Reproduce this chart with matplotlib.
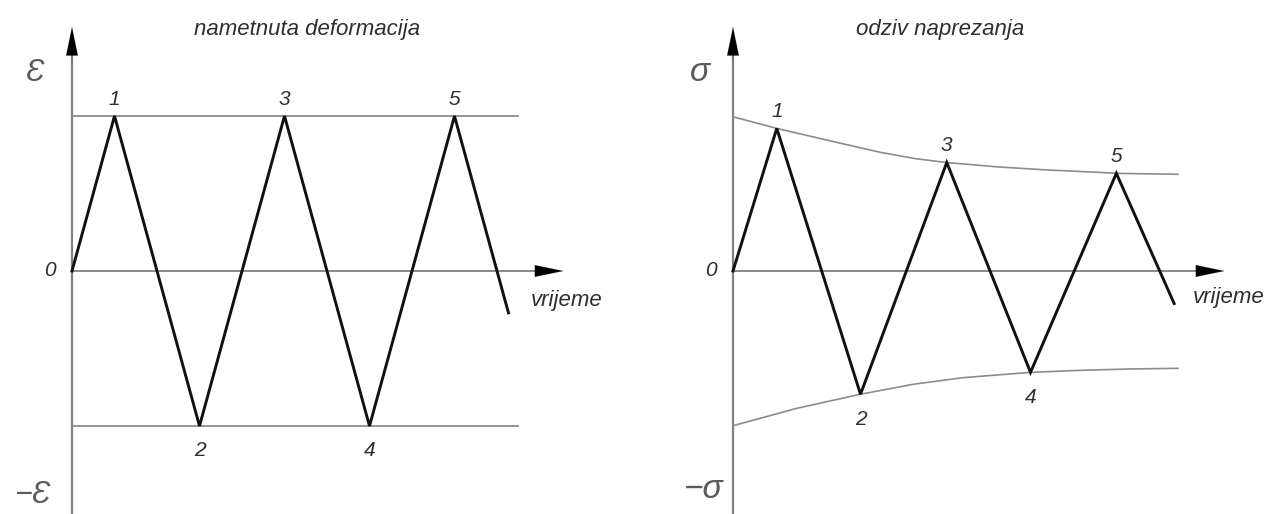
import matplotlib
matplotlib.use("Agg")
import matplotlib.pyplot as plt

plt.rcParams['font.family'] = ['Liberation Sans', 'DejaVu Sans']

# time positions of the turning points (one unit = half a rise)
t_points = [0, 1, 3, 5, 7, 9, 10.27]
t_points_resp = [0, 1.03, 3, 5.03, 7, 9.02, 10.38]

# imposed strain (left) and stress response (right)
strain = [0, 1, -1, 1, -1, 1, -0.27]
stress = [0, 0.92, -0.795, 0.70, -0.654, 0.63, -0.21]
point_labels = ['0', '1', '2', '3', '4', '5']

# strain limits
strain_limit = 1.0
limit_t = [0, 10.5]

# decaying stress envelopes
env_up_t = [0, 1.03, 2.28, 3.46, 4.31, 5.03, 6.21, 7.39, 8.56, 9.02, 10.47]
env_up = [0.995, 0.92, 0.84, 0.766, 0.724, 0.70, 0.672, 0.652, 0.637, 0.63, 0.624]
env_lo_t = [0, 1.5, 3, 4.24, 5.42, 7, 8.16, 9.34, 10.47]
env_lo = [-0.998, -0.886, -0.795, -0.731, -0.688, -0.654, -0.641, -0.632, -0.628]

AX = '#808080'
GREY = '#8c8c8c'
TXT = '#2e2e2e'
SYM = '#5a5a5a'

fig = plt.figure(figsize=(12.68, 5.14), dpi=100)
ax1 = fig.add_axes([0, 0, 0.5, 1])
ax2 = fig.add_axes([0.5, 0, 0.5, 1])

ax1.set_xlim(-72 / 42.5, (634 - 72) / 42.5)
ax2.set_xlim(-99 / 42.5, (634 - 99) / 42.5)
for ax in (ax1, ax2):
    ax.set_ylim(-243 / 155, 271 / 155)
    ax.axis('off')

HEAD = dict(arrowstyle='-|>,head_length=1.35,head_width=0.28',
            color='black', lw=0.1, mutation_scale=15, shrinkA=0, shrinkB=0)


def draw_axes(ax):
    ybot = ax.get_ylim()[0]
    # vertical axis, head drawn separately
    ax.plot([0, 0], [ybot, 1.42], color=AX, lw=1.6, zorder=1, clip_on=False)
    ax.annotate('', xy=(0, 1.574), xytext=(0, 1.35), arrowprops=HEAD)
    # time axis
    ax.plot([0, 11.0], [0, 0], color=AX, lw=1.3, zorder=1)
    ax.annotate('', xy=(11.56, 0), xytext=(10.9, 0), arrowprops=HEAD)


def label_points(ax, t, y):
    ax.text(-0.52, 0, point_labels[0], ha='center', va='center',
            fontsize=15, style='italic', color=TXT)
    for i in range(1, 6):
        off = 12 if y[i] > 0 else -18
        ax.annotate(point_labels[i], (t[i], y[i]), xytext=(0, off),
                    textcoords='offset points', ha='center', va='center',
                    fontsize=15, style='italic', color=TXT)


# left: imposed strain
draw_axes(ax1)
ax1.plot(limit_t, [strain_limit, strain_limit], color=GREY, lw=1.3)
ax1.plot(limit_t, [-strain_limit, -strain_limit], color=GREY, lw=1.3)
ax1.plot(t_points, strain, color='#111111', lw=2.1, solid_joinstyle='miter', zorder=3)
label_points(ax1, t_points, strain)
ax1.text(-0.87, 1.28, 'Ɛ', ha='center', va='center', fontsize=22,
         style='italic', color=SYM)
ax1.text(-0.94, -1.445, '−Ɛ', ha='center', va='center', fontsize=22,
         style='italic', color=SYM)
ax1.text(5.53, 1.56, 'nametnuta deformacija', ha='center', va='center',
         fontsize=16, style='italic', color=TXT)
ax1.text(11.65, -0.19, 'vrijeme', ha='center', va='center',
         fontsize=16, style='italic', color=TXT)

# right: stress response
draw_axes(ax2)
ax2.plot(env_up_t, env_up, color=GREY, lw=1.2)
ax2.plot(env_lo_t, env_lo, color=GREY, lw=1.2)
ax2.plot(t_points_resp, stress, color='#111111', lw=2.1, solid_joinstyle='miter', zorder=3)
label_points(ax2, t_points_resp, stress)
ax2.text(-0.78, 1.28, 'σ', ha='center', va='center', fontsize=24,
         style='italic', color=SYM)
ax2.text(-0.68, -1.41, '−σ', ha='center', va='center', fontsize=24,
         style='italic', color=SYM)
ax2.text(4.87, 1.56, 'odziv naprezanja', ha='center', va='center',
         fontsize=16, style='italic', color=TXT)
ax2.text(11.67, -0.17, 'vrijeme', ha='center', va='center',
         fontsize=16, style='italic', color=TXT)

fig.savefig('out.png', dpi=100, facecolor='white')
